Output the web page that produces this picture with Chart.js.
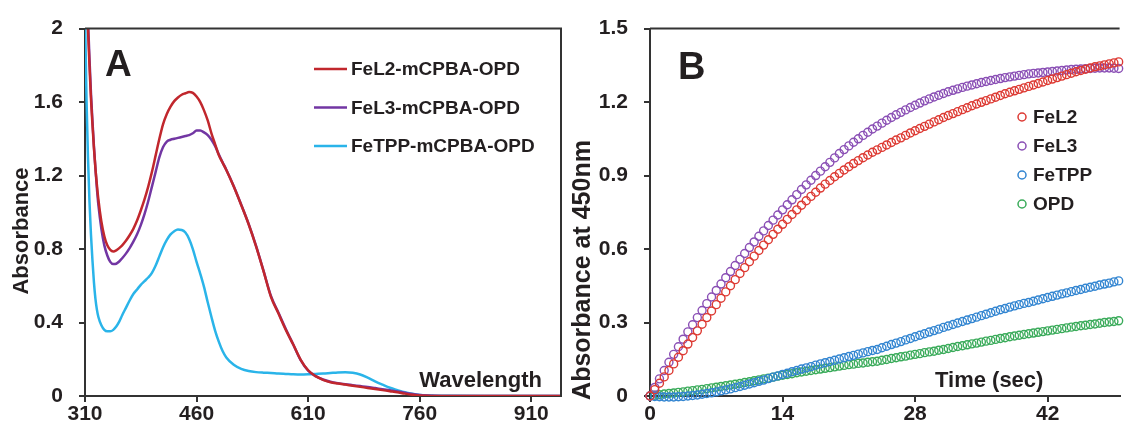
<!DOCTYPE html>
<html lang="en">
<head>
<meta charset="UTF-8">
<title>Absorbance spectra and kinetics</title>
<script src="https://cdn.jsdelivr.net/npm/chart.js"></script>
<style>
    body { margin: 0; background: #fff; }
    #wrap { position: relative; width: 1125px; height: 432px; overflow: hidden; }
    #panelA { position: absolute; left: 0; top: 0; width: 565px; height: 432px; }
    #panelB { position: absolute; left: 565px; top: 0; width: 560px; height: 432px; }
</style>
</head>
<body>
<div id="wrap">
    <div id="panelA"><canvas id="chartA"></canvas></div>
    <div id="panelB"><canvas id="chartB"></canvas></div>
</div>
<script>
/*************************
    DATA - PANEL A (spectra)
*************************/
const wavelengths = [310, 312, 314, 316, 318, 320, 322, 324, 326, 328,
    332, 336, 340, 344, 348, 352, 356, 360, 365, 370,
    375, 380, 385, 390, 395, 400, 405, 410, 415, 420,
    425, 430, 435, 440, 445, 450, 455, 460, 465, 470,
    475, 480, 485, 490, 495, 500, 510, 520, 530, 540,
    550, 560, 570, 580, 590, 600, 610, 620, 630, 640,
    650, 660, 670, 680, 690, 700, 710, 720, 730, 740,
    750, 760, 770, 780, 800, 850, 900, 950];

const fel2Spectrum = [2.5, 2.2, 2.0, 1.8, 1.62, 1.48, 1.35, 1.24, 1.15, 1.07,
    0.95, 0.87, 0.82, 0.795, 0.787, 0.793, 0.805, 0.82, 0.845, 0.875,
    0.91, 0.955, 1.01, 1.07, 1.14, 1.22, 1.31, 1.40, 1.48, 1.535,
    1.575, 1.605, 1.625, 1.64, 1.648, 1.655, 1.65, 1.63, 1.60, 1.555,
    1.50, 1.43, 1.37, 1.31, 1.27, 1.23, 1.14, 1.04, 0.935, 0.815,
    0.68, 0.54, 0.45, 0.36, 0.28, 0.197, 0.14, 0.108, 0.088, 0.075,
    0.068, 0.062, 0.056, 0.05, 0.044, 0.038, 0.032, 0.026, 0.02, 0.013,
    0.007, 0.003, 0.001, 0, 0, 0, 0, 0];

const fel3Spectrum = [2.6, 2.3, 2.05, 1.84, 1.65, 1.5, 1.36, 1.24, 1.13, 1.04,
    0.91, 0.82, 0.765, 0.73, 0.718, 0.72, 0.732, 0.75, 0.775, 0.805,
    0.84, 0.88, 0.93, 0.99, 1.06, 1.14, 1.22, 1.30, 1.355, 1.385,
    1.395, 1.40, 1.405, 1.41, 1.415, 1.42, 1.43, 1.445, 1.445, 1.435,
    1.42, 1.395, 1.36, 1.315, 1.272, 1.232, 1.142, 1.042, 0.937, 0.817,
    0.682, 0.545, 0.455, 0.365, 0.28, 0.195, 0.138, 0.108, 0.09, 0.078,
    0.07, 0.064, 0.059, 0.054, 0.049, 0.043, 0.037, 0.031, 0.025, 0.018,
    0.011, 0.006, 0.003, 0.001, 0, 0, 0, 0];

const fetppSpectrum = [2.1, 1.62, 1.3, 1.06, 0.88, 0.74, 0.62, 0.53, 0.47, 0.43,
    0.385, 0.36, 0.352, 0.352, 0.36, 0.378, 0.405, 0.44, 0.48, 0.52,
    0.555, 0.58, 0.605, 0.625, 0.645, 0.67, 0.71, 0.76, 0.81, 0.85,
    0.88, 0.897, 0.906, 0.904, 0.89, 0.855, 0.80, 0.73, 0.665, 0.594,
    0.51, 0.43, 0.355, 0.295, 0.245, 0.21, 0.17, 0.148, 0.136, 0.13,
    0.127, 0.125, 0.122, 0.12, 0.118, 0.117, 0.118, 0.12, 0.122, 0.125,
    0.128, 0.129, 0.126, 0.117, 0.1, 0.08, 0.062, 0.045, 0.032, 0.02,
    0.012, 0.006, 0.003, 0.002, 0.001, 0, 0, 0];

const wavelengthTicks = [310, 460, 610, 760, 910];
const absorbanceTicksA = [0, 0.4, 0.8, 1.2, 1.6, 2];

/*************************
    DATA - PANEL B (kinetics at 450 nm)
*************************/
const times = [0, 0.5, 1, 1.5, 2, 2.5, 3, 3.5, 4, 4.5,
    5, 5.5, 6, 6.5, 7, 7.5, 8, 8.5, 9, 9.5,
    10, 10.5, 11, 11.5, 12, 12.5, 13, 13.5, 14, 14.5,
    15, 15.5, 16, 16.5, 17, 17.5, 18, 18.5, 19, 19.5,
    20, 20.5, 21, 21.5, 22, 22.5, 23, 23.5, 24, 24.5,
    25, 25.5, 26, 26.5, 27, 27.5, 28, 28.5, 29, 29.5,
    30, 30.5, 31, 31.5, 32, 32.5, 33, 33.5, 34, 34.5,
    35, 35.5, 36, 36.5, 37, 37.5, 38, 38.5, 39, 39.5,
    40, 40.5, 41, 41.5, 42, 42.5, 43, 43.5, 44, 44.5,
    45, 45.5, 46, 46.5, 47, 47.5, 48, 48.5, 49, 49.5];

const fel2Kinetics = [0, 0.026, 0.052, 0.078, 0.104, 0.131, 0.158, 0.185, 0.212, 0.239,
    0.266, 0.293, 0.32, 0.347, 0.373, 0.399, 0.425, 0.45, 0.475, 0.5,
    0.524, 0.548, 0.571, 0.594, 0.616, 0.638, 0.66, 0.681, 0.701, 0.721,
    0.741, 0.76, 0.779, 0.797, 0.815, 0.832, 0.849, 0.865, 0.88, 0.895,
    0.909, 0.923, 0.936, 0.949, 0.961, 0.973, 0.984, 0.995, 1.005, 1.015,
    1.025, 1.035, 1.045, 1.054, 1.064, 1.074, 1.083, 1.092, 1.101, 1.11,
    1.119, 1.128, 1.137, 1.145, 1.153, 1.161, 1.169, 1.177, 1.185, 1.192,
    1.199, 1.206, 1.213, 1.22, 1.227, 1.234, 1.24, 1.246, 1.252, 1.258,
    1.264, 1.27, 1.276, 1.282, 1.288, 1.294, 1.3, 1.306, 1.312, 1.318,
    1.324, 1.329, 1.334, 1.339, 1.344, 1.348, 1.352, 1.356, 1.36, 1.364];

const fel3Kinetics = [0, 0.035, 0.07, 0.104, 0.138, 0.17, 0.201, 0.232, 0.262, 0.291,
    0.32, 0.349, 0.377, 0.404, 0.431, 0.457, 0.483, 0.508, 0.533, 0.558,
    0.582, 0.606, 0.629, 0.652, 0.674, 0.696, 0.718, 0.739, 0.76, 0.781,
    0.801, 0.822, 0.843, 0.862, 0.881, 0.9, 0.918, 0.936, 0.954, 0.972,
    0.99, 1.006, 1.021, 1.036, 1.05, 1.064, 1.077, 1.09, 1.102, 1.114,
    1.126, 1.137, 1.148, 1.158, 1.168, 1.178, 1.187, 1.196, 1.205, 1.213,
    1.221, 1.228, 1.235, 1.242, 1.248, 1.254, 1.26, 1.265, 1.27, 1.275,
    1.28, 1.284, 1.288, 1.292, 1.296, 1.3, 1.303, 1.306, 1.309, 1.312,
    1.315, 1.317, 1.319, 1.321, 1.323, 1.325, 1.327, 1.329, 1.331, 1.333,
    1.334, 1.335, 1.336, 1.337, 1.338, 1.339, 1.339, 1.339, 1.338, 1.337];

const fetppKinetics = [0, -0.002, -0.003, -0.004, -0.004, -0.004, -0.003, -0.002, 0, 0.002,
    0.004, 0.007, 0.01, 0.013, 0.017, 0.021, 0.025, 0.029, 0.034, 0.039,
    0.044, 0.049, 0.054, 0.06, 0.065, 0.071, 0.077, 0.082, 0.088, 0.093,
    0.099, 0.104, 0.11, 0.115, 0.12, 0.126, 0.131, 0.136, 0.141, 0.146,
    0.151, 0.156, 0.161, 0.166, 0.171, 0.176, 0.181, 0.186, 0.19, 0.197,
    0.203, 0.21, 0.216, 0.222, 0.229, 0.235, 0.242, 0.248, 0.254, 0.261,
    0.267, 0.273, 0.28, 0.286, 0.292, 0.298, 0.304, 0.31, 0.316, 0.322,
    0.328, 0.334, 0.34, 0.346, 0.352, 0.357, 0.363, 0.368, 0.373, 0.378,
    0.382, 0.387, 0.392, 0.397, 0.402, 0.407, 0.412, 0.417, 0.421, 0.426,
    0.431, 0.435, 0.44, 0.444, 0.448, 0.453, 0.457, 0.461, 0.466, 0.47];

const opdKinetics = [0, 0.003, 0.005, 0.008, 0.01, 0.012, 0.015, 0.017, 0.02, 0.022,
    0.025, 0.027, 0.03, 0.033, 0.036, 0.039, 0.042, 0.045, 0.048, 0.051,
    0.055, 0.058, 0.062, 0.066, 0.07, 0.073, 0.077, 0.081, 0.085, 0.088,
    0.091, 0.095, 0.098, 0.101, 0.104, 0.107, 0.11, 0.113, 0.116, 0.119,
    0.122, 0.125, 0.128, 0.13, 0.133, 0.135, 0.138, 0.14, 0.142, 0.146,
    0.149, 0.153, 0.156, 0.16, 0.163, 0.167, 0.17, 0.173, 0.177, 0.18,
    0.183, 0.187, 0.19, 0.194, 0.198, 0.202, 0.205, 0.209, 0.213, 0.216,
    0.22, 0.224, 0.227, 0.231, 0.235, 0.238, 0.242, 0.245, 0.248, 0.251,
    0.254, 0.257, 0.26, 0.263, 0.266, 0.269, 0.272, 0.275, 0.278, 0.281,
    0.284, 0.287, 0.289, 0.292, 0.294, 0.297, 0.3, 0.302, 0.304, 0.307];

const timeTicks = [0, 14, 28, 42];
const absorbanceTicksB = [0, 0.3, 0.6, 0.9, 1.2, 1.5];


/*************************
    STYLE
*************************/
const axisColor = '#333333';
const textColor = '#231f20';
const fontFamily = "'Liberation Sans', Arial, Helvetica, sans-serif";

Chart.defaults.font.family = fontFamily;
Chart.defaults.font.weight = 'bold';
Chart.defaults.color = textColor;

// pair x and y arrays into points for a linear x axis
function toPoints(xs, ys) {
    return xs.map((x, i) => ({ x: x, y: ys[i] }));
}

// top / right frame lines, panel letter, axis titles drawn inside the plot
const panelDecor = {
    id: 'panelDecor',
    afterDraw(chart, args, opts) {
        const ctx = chart.ctx;
        const a = chart.chartArea;
        ctx.save();
        ctx.strokeStyle = axisColor;
        ctx.lineWidth = 2;
        ctx.beginPath();
        ctx.moveTo(a.left, a.top);
        ctx.lineTo(a.right, a.top);
        if (opts.frameRight) ctx.lineTo(a.right, a.bottom);
        ctx.stroke();

        ctx.fillStyle = textColor;
        ctx.textBaseline = 'alphabetic';
        (opts.texts || []).forEach(t => {
            ctx.save();
            ctx.font = 'bold ' + t.size + 'px ' + fontFamily;
            ctx.textAlign = t.align || 'left';
            ctx.translate(t.x, t.y);
            if (t.rotate) {
                ctx.rotate(-Math.PI / 2);
                ctx.textBaseline = 'middle';
            }
            ctx.fillText(t.text, 0, 0);
            ctx.restore();
        });
        ctx.restore();
    }
};

// legend drawn inside the chart area from the datasets
const insideLegend = {
    id: 'insideLegend',
    afterDraw(chart, args, opts) {
        const ctx = chart.ctx;
        ctx.save();
        ctx.font = 'bold ' + opts.size + 'px ' + fontFamily;
        ctx.textBaseline = 'middle';
        ctx.textAlign = 'left';
        chart.data.datasets.forEach((ds, i) => {
            const y = opts.y + i * opts.gap;
            ctx.strokeStyle = ds.borderColor;
            if (opts.kind === 'line') {
                ctx.lineWidth = 2.5;
                ctx.beginPath();
                ctx.moveTo(opts.x, y);
                ctx.lineTo(opts.x + opts.sample, y);
                ctx.stroke();
            } else {
                ctx.lineWidth = 1.5;
                ctx.beginPath();
                ctx.arc(opts.x, y, 4, 0, Math.PI * 2);
                ctx.stroke();
            }
            ctx.fillStyle = textColor;
            ctx.fillText(ds.label, opts.x + opts.textOffset, y + 1);
        });
        ctx.restore();
    }
};

function axisOptions(min, max, tickList, fitSize, isY) {
    return {
        type: 'linear',
        min: min,
        max: max,
        afterBuildTicks: s => { s.ticks = tickList.map(v => ({ value: v })); },
        afterFit: s => { if (isY) s.width = fitSize; else s.height = fitSize; },
        grid: { drawOnChartArea: false, drawTicks: true, tickLength: 6, color: axisColor, lineWidth: 2 },
        border: { display: true, color: axisColor, width: 2 },
        ticks: {
            padding: isY ? 16 : 0,
            maxRotation: 0,
            color: textColor,
            font: { size: 21, weight: 'bold' },
            callback: v => String(v)
        }
    };
}


/*************************
    PANEL A
*************************/
const chartA = new Chart(document.getElementById('chartA'), {
    type: 'line',
    data: {
        datasets: [
            { label: 'FeL2-mCPBA-OPD', data: toPoints(wavelengths, fel2Spectrum), borderColor: '#c1272d' },
            { label: 'FeL3-mCPBA-OPD', data: toPoints(wavelengths, fel3Spectrum), borderColor: '#7236a3' },
            { label: 'FeTPP-mCPBA-OPD', data: toPoints(wavelengths, fetppSpectrum), borderColor: '#2ab4e9' }
        ]
    },
    options: {
        responsive: true,
        maintainAspectRatio: false,
        animation: false,
        layout: { padding: { top: 27, right: 4, bottom: 0, left: 0 } },
        datasets: {
            line: { borderWidth: 2.5, pointRadius: 0, fill: false, cubicInterpolationMode: 'monotone' }
        },
        scales: {
            x: axisOptions(310, 950, wavelengthTicks, 36, false),
            y: axisOptions(0, 2, absorbanceTicksA, 85, true)
        },
        plugins: {
            legend: { display: false },
            tooltip: { enabled: false },
            insideLegend: { kind: 'line', x: 314, y: 69, gap: 38.5, sample: 33, textOffset: 37, size: 19 },
            panelDecor: {
                frameRight: true,
                texts: [
                    { text: 'A', x: 105, y: 76, size: 37 },
                    { text: 'Absorbance', x: 22, y: 231, size: 22, align: 'center', rotate: true },
                    { text: 'Wavelength', x: 542, y: 387, size: 22, align: 'right' }
                ]
            }
        }
    },
    plugins: [panelDecor, insideLegend]
});


/*************************
    PANEL B
*************************/
const chartB = new Chart(document.getElementById('chartB'), {
    type: 'line',
    data: {
        datasets: [
            { label: 'FeL2', data: toPoints(times, fel2Kinetics), borderColor: '#dd3a33' },
            { label: 'FeL3', data: toPoints(times, fel3Kinetics), borderColor: '#8a4fb5' },
            { label: 'FeTPP', data: toPoints(times, fetppKinetics), borderColor: '#3285d1' },
            { label: 'OPD', data: toPoints(times, opdKinetics), borderColor: '#3aab5a' }
        ]
    },
    options: {
        responsive: true,
        maintainAspectRatio: false,
        animation: false,
        layout: { padding: { top: 27, right: 0, bottom: 0, left: 0 } },
        datasets: {
            line: {
                showLine: false,
                pointStyle: 'circle',
                pointRadius: 4,
                pointBorderWidth: 1.4,
                pointBackgroundColor: 'rgba(255,255,255,0)',
                clip: 6
            }
        },
        scales: {
            x: axisOptions(0, 49.6, timeTicks, 36, false),
            y: axisOptions(0, 1.5, absorbanceTicksB, 85, true)
        },
        plugins: {
            legend: { display: false },
            tooltip: { enabled: false },
            insideLegend: { kind: 'circle', x: 457, y: 117, gap: 29, textOffset: 11, size: 19 },
            panelDecor: {
                frameRight: false,
                texts: [
                    { text: 'B', x: 113, y: 79, size: 38 },
                    { text: 'Absorbance at 450nm', x: 18, y: 270, size: 25, align: 'center', rotate: true },
                    { text: 'Time (sec)', x: 370, y: 387, size: 22, align: 'left' }
                ]
            }
        }
    },
    plugins: [panelDecor, insideLegend]
});
</script>
</body>
</html>
